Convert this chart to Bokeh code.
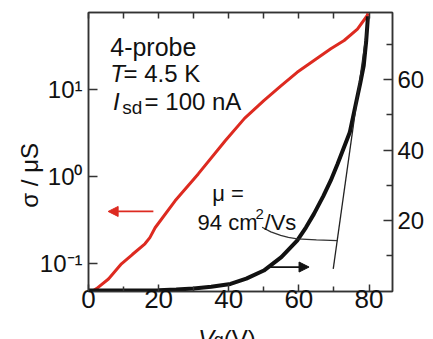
from bokeh.plotting import figure
from bokeh.layouts import column
from bokeh.models import (Range1d, LinearAxis, LinearScale, FixedTicker, Label, Arrow,
                          NormalHead, CustomLabelingPolicy)
from bokeh.embed import file_html
from bokeh.resources import INLINE

# ---------------- data ----------------
# red: sigma (uS, log, left axis) vs gate voltage
red_vg = [1.0, 2.3, 5.7, 9.4, 12.5, 16.1, 17.5, 19.0, 24.7, 31.3, 39.0, 44.5, 50.0,
          54.8, 59.5, 64.3, 69.1, 72.9, 76.7, 79.5, 79.7]
red_sigma = [0.048, 0.052, 0.067, 0.10, 0.128, 0.17, 0.20, 0.26, 0.53, 1.08, 2.6, 4.7, 7.5,
             11.0, 15.9, 21.7, 29.6, 36.9, 50.0, 71.5, 76.0]

# black: sigma (uS, linear, right axis) vs gate voltage
blk_vg = [0, 10, 20, 25, 30, 35, 40.5, 45, 50, 55, 59.5, 62, 64.3, 67, 69.1, 71, 72.9,
          74.5, 76, 77.5, 78.5, 79.2, 79.7]
blk_sigma = [0.1, 0.1, 0.2, 0.4, 0.7, 1.2, 2.0, 3.5, 5.8, 9.6, 14.3, 18.0, 21.9, 27.0,
             31.4, 36.0, 40.9, 45.0, 52.0, 59.0, 64.0, 71.0, 78.0]

# linear fit (mobility) line and pointer from the label
fit_vg = [69.8, 79.9]
fit_sigma = [6.3, 78.0]
ptr_vg = [49.5, 52.0, 54.8, 57.0, 59.5, 65.0, 71.0]
ptr_sigma = [18.1, 16.8, 15.8, 15.2, 14.8, 14.5, 14.3]

# axes
x_ticks = [0, 20, 40, 60, 80]
x_minor = [10, 30, 50, 70]
top_ticks = [0, 10, 20, 30, 40, 50, 60, 70, 80]
log_ticks = [0.1, 1, 10]
log_tick_labels = ["10\u207b\u00b9", "10\u2070", "10\u00b9"]
lin_ticks = [20, 40, 60]
lin_minor = [10, 30, 50, 70]

X_RANGE = (0, 86.7)
LOG_RANGE = (0.0481, 77.4)
LIN_RANGE = (-0.15, 79.1)

FONT = "Liberation Sans"
RED = "#dd2a20"
AX = "#333333"
TXT = "#111111"

W, H_MAIN, H_XT = 433, 319, 20

p = figure(width=W, height=H_MAIN, x_range=Range1d(*X_RANGE), y_range=Range1d(*LOG_RANGE),
           y_axis_type="log", output_backend="svg", toolbar_location=None, title=None,
           min_border_left=88, min_border_right=41, min_border_top=12, min_border_bottom=28)
p.extra_y_ranges = {"lin": Range1d(*LIN_RANGE)}
p.extra_y_scales = {"lin": LinearScale()}
p.xgrid.visible = False
p.ygrid.visible = False
p.outline_line_color = AX
p.outline_line_width = 1.5
p.background_fill_color = "white"
p.border_fill_color = "white"

def style_axis(ax, size):
    ax.axis_line_color = AX
    ax.axis_line_width = 1.5
    ax.major_tick_line_color = AX
    ax.major_tick_line_width = 1.5
    ax.minor_tick_line_color = AX
    ax.minor_tick_line_width = 1.5
    ax.major_tick_out = 0
    ax.minor_tick_out = 0
    ax.major_label_text_font = FONT
    ax.major_label_text_font_size = size
    ax.major_label_text_color = TXT

# bottom
xb = p.xaxis[0]
xb.ticker = FixedTicker(ticks=x_ticks, minor_ticks=x_minor)
style_axis(xb, "26px")
xb.major_tick_in = 7
xb.minor_tick_in = 5
xb.major_label_standoff = -2

# top (ticks only, labels suppressed)
xt = LinearAxis(ticker=FixedTicker(ticks=top_ticks, minor_ticks=[]))
style_axis(xt, "1px")
xt.major_tick_in = 6
xt.major_label_standoff = 0
xt.major_label_policy = CustomLabelingPolicy(code="""
for (const i of Array.from(indices)) indices.unset(i)
return indices
""")
p.add_layout(xt, "above")

# left log
yl = p.yaxis[0]
yl.ticker = FixedTicker(ticks=log_ticks, minor_ticks=[])
style_axis(yl, "24px")
yl.major_tick_in = 9
yl.major_label_standoff = 6
yl.major_label_overrides = dict(zip(log_ticks, log_tick_labels))
# trailing no-break spaces shift the centred title toward the lower end, as in the original
yl.axis_label = "\u03c3 / \u03bcS" + "\u00a0" * 7
yl.axis_label_text_font = FONT
yl.axis_label_text_font_size = "24px"
yl.axis_label_text_font_style = "normal"
yl.axis_label_text_color = TXT
yl.axis_label_standoff = -6

# right linear
yr = LinearAxis(y_range_name="lin", ticker=FixedTicker(ticks=lin_ticks, minor_ticks=lin_minor))
style_axis(yr, "24px")
yr.major_tick_in = 9
yr.minor_tick_in = 6
yr.major_label_standoff = 5
p.add_layout(yr, "right")

# ---------------- curves ----------------
p.line(red_vg, red_sigma, line_color=RED, line_width=3)
p.line(blk_vg, blk_sigma, y_range_name="lin", line_color=TXT, line_width=4)
p.line(fit_vg, fit_sigma, y_range_name="lin", line_color="#222222", line_width=1.3)
p.line(ptr_vg, ptr_sigma, y_range_name="lin", line_color="#333333", line_width=1.3)

# arrows
p.add_layout(Arrow(x_start=18.5, y_start=0.40, x_end=5.6, y_end=0.40,
                   line_color=RED, line_width=1.8,
                   end=NormalHead(size=10, fill_color=RED, line_color=RED)))
p.add_layout(Arrow(x_start=51.8, y_start=6.8, x_end=62.9, y_end=6.8, y_range_name="lin",
                   line_color=TXT, line_width=1.8,
                   end=NormalHead(size=10, fill_color=TXT, line_color=TXT)))

# ---------------- texts ----------------
def lab(fig, x, y, text, size="24px", style="normal", rng="lin"):
    kw = dict(y_range_name=rng) if rng else {}
    fig.add_layout(Label(x=x, y=y, text=text, text_font=FONT, text_font_size=size,
                         text_font_style=style, text_align="left",
                         text_baseline="alphabetic", text_color=TXT, **kw))

lab(p, 6.2, 69.3, "4-probe", "25px")
lab(p, 6.2, 61.8, "T", "24px", "italic")
lab(p, 10.0, 61.8, "= 4.5 K")
lab(p, 7.0, 53.8, "I", "24px", "italic")
lab(p, 9.6, 52.0, "sd", "19px")
lab(p, 16.0, 53.8, "= 100 nA")

lab(p, 35.3, 27.6, "\u03bc =", "22px")
lab(p, 31.1, 19.5, "94 cm", "22px")
lab(p, 47.6, 22.0, "2", "15px")
lab(p, 50.2, 19.5, "/Vs", "22px")

# ---------------- x-axis title strip (frame aligned with the main plot) ----------------
p2 = figure(width=W, height=H_XT, x_range=p.x_range, y_range=Range1d(0, H_XT),
            output_backend="svg", toolbar_location=None, title=None,
            x_axis_location=None, y_axis_location=None,
            min_border_left=88, min_border_right=41, min_border_top=0, min_border_bottom=0)
p2.xgrid.visible = False
p2.ygrid.visible = False
p2.outline_line_color = None
p2.background_fill_color = "white"
p2.border_fill_color = "white"

lab(p2, 31.3, 1.5, "V", "24px", "italic", rng=None)
lab(p2, 35.7, -0.5, "g", "18px", rng=None)
lab(p2, 38.6, 1.5, "(V)", "24px", rng=None)

layout = column(p, p2, spacing=0)
open("out.html", "w").write(file_html(layout, INLINE))
